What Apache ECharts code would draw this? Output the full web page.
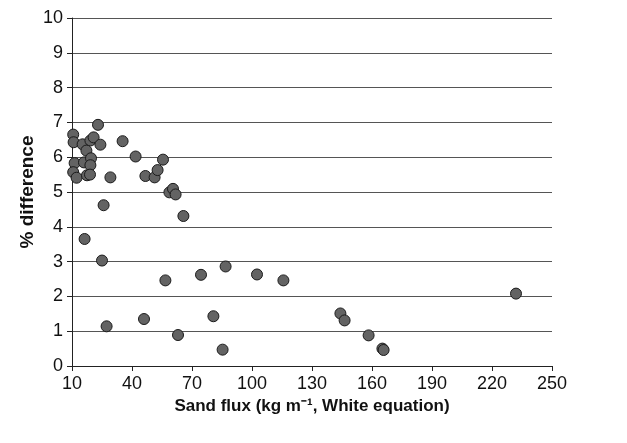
<!DOCTYPE html>
<html><head><meta charset="utf-8">
<script src="https://cdn.jsdelivr.net/npm/echarts@6/dist/echarts.min.js"></script>
<style>html,body{margin:0;padding:0;background:#fff}#c{width:627px;height:443px}</style>
</head><body><div id="c"></div>
<script>
var sandFlux = [23, 10.6, 10.8, 15.3, 19.2, 20.8, 24.2, 17.2, 35.3, 41.8, 55.5, 11.3, 16, 19.5, 19.2, 10.6, 12.3, 17.5, 19, 29.2, 46.7, 51.3, 52.8, 58.7, 60.5, 61.8, 25.8, 65.7, 16.3, 25, 27.3, 46, 56.7, 63, 74.5, 80.7, 86.8, 85.3, 102.5, 115.7, 144.2, 146.3, 158.3, 165.2, 165.8, 232];
var pctDiff = [6.93, 6.65, 6.43, 6.37, 6.48, 6.57, 6.36, 6.19, 6.46, 6.02, 5.93, 5.83, 5.85, 5.97, 5.77, 5.57, 5.41, 5.48, 5.5, 5.42, 5.46, 5.42, 5.63, 4.99, 5.09, 4.93, 4.62, 4.31, 3.65, 3.03, 1.14, 1.35, 2.46, 0.89, 2.62, 1.43, 2.86, 0.47, 2.63, 2.46, 1.51, 1.31, 0.88, 0.5, 0.46, 2.08];
var xTicks = [10, 40, 70, 100, 130, 160, 190, 220, 250];
var data = sandFlux.map(function(x, i){ return [x, pctDiff[i]]; });
var chart = echarts.init(document.getElementById('c'));
var font = 'Liberation Sans, Arial, sans-serif';
chart.setOption({
  animation: false,
  grid: {left: 72, right: 75, top: 18, bottom: 77},
  xAxis: {
    type: 'value', min: 10, max: 250, interval: 30,
    name: 'Sand flux (kg m⁻¹, White equation)',
    nameLocation: 'middle', nameGap: 31,
    nameTextStyle: {fontFamily: font, fontSize: 17, fontWeight: 'bold', color: '#111'},
    axisLine: {show: true, lineStyle: {color: '#222', width: 1}},
    axisTick: {show: true, length: 5, lineStyle: {color: '#222'}},
    axisLabel: {fontFamily: font, fontSize: 18, color: '#111', margin: 9,
      formatter: function(v){ return xTicks.indexOf(v) >= 0 ? String(v) : ''; }},
    splitLine: {show: false}
  },
  yAxis: {
    type: 'value', min: 0, max: 10, interval: 1,
    name: '% difference', nameLocation: 'middle', nameGap: 35, nameMoveOverlap: false,
    nameTextStyle: {fontFamily: font, fontSize: 19, fontWeight: 'bold', color: '#111'},
    axisLine: {show: true, lineStyle: {color: '#222', width: 1}},
    axisTick: {show: true, length: 5, lineStyle: {color: '#222'}},
    axisLabel: {fontFamily: font, fontSize: 18, color: '#111', margin: 9},
    splitLine: {show: true, lineStyle: {color: '#555', width: 1}}
  },
  series: [{
    type: 'scatter', data: data, symbolSize: 11,
    itemStyle: {color: '#636363', borderColor: '#1a1a1a', borderWidth: 1, opacity: 1}
  }]
});
</script></body></html>
